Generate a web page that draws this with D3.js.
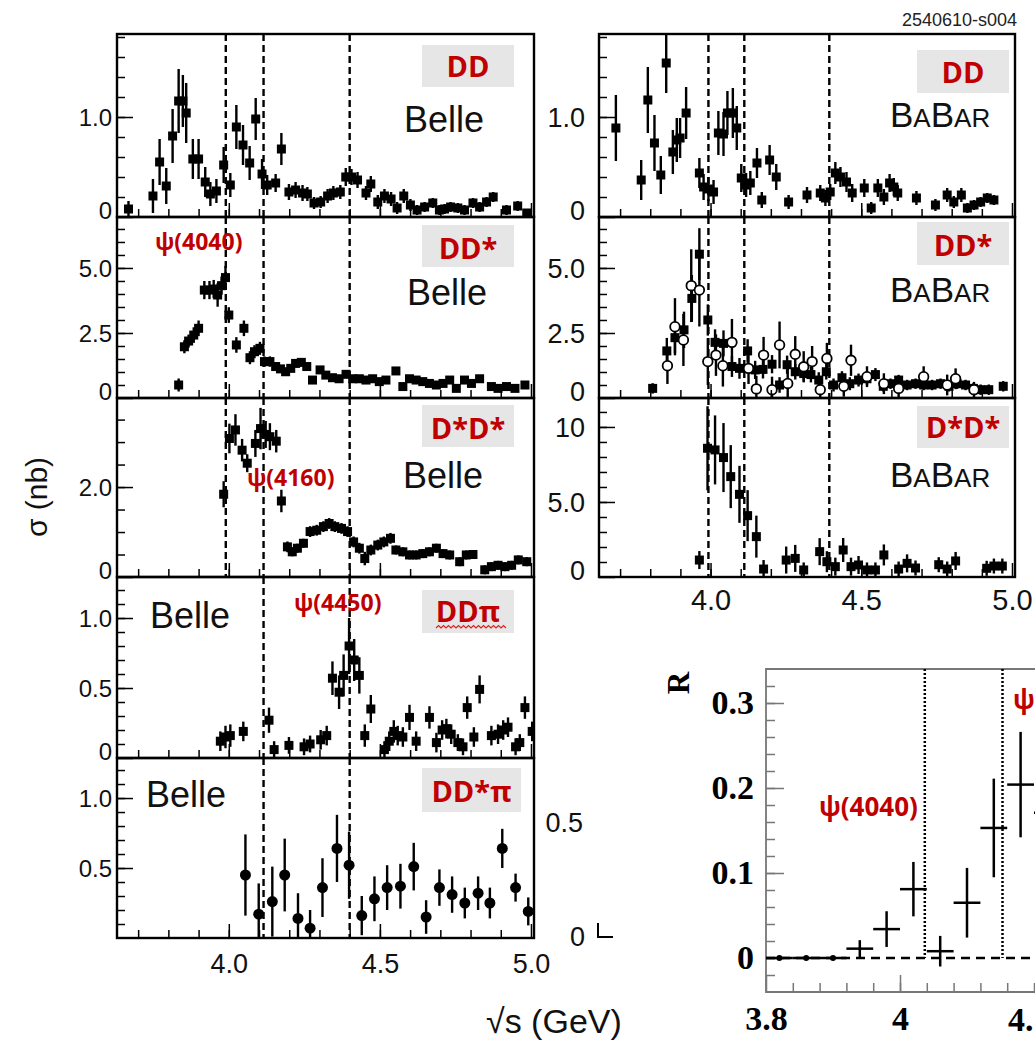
<!DOCTYPE html>
<html>
<head>
<meta charset="utf-8">
<script src="https://cdn.jsdelivr.net/npm/d3@7"></script>
<style>
body{margin:0;background:#fff;}
svg{font-family:"Liberation Sans",Arial,sans-serif;}
</style>
</head>
<body>
<svg id="chart" width="1035" height="1045"></svg>
<script>
var W=1035,H=1045;
var red="#c00000";
var boxGray="#e6e6e6";

// resonance lines (GeV)
var psiLines=[3.99,4.115,4.40];
var psiLinesPi=[4.115,4.40];
var psiLinesBabar=[3.993,4.112,4.394];
var psiLinesR=[4.037,4.153];

// [sqrt(s) GeV, sigma nb, error nb]
var belleDD=[[3.668,0.08,0.08],[3.749,0.21,0.17],[3.771,0.55,0.23],[3.793,0.31,0.18],[3.814,0.81,0.27],
[3.834,1.16,0.32],[3.848,1.16,0.26],[3.859,1.04,0.30],[3.881,0.58,0.20],[3.900,0.58,0.20],[3.922,0.35,0.15],
[3.939,0.23,0.12],[3.959,0.26,0.12],[3.983,0.52,0.18],[4.005,0.32,0.12],[4.025,0.90,0.22],[4.047,0.72,0.20],
[4.069,0.54,0.17],[4.089,0.98,0.21],[4.110,0.43,0.15],[4.127,0.32,0.10],[4.155,0.34,0.09],[4.174,0.68,0.16],
[4.199,0.25,0.08],[4.221,0.27,0.08],[4.244,0.24,0.08],[4.260,0.23,0.07],[4.282,0.14,0.06],[4.304,0.15,0.06],
[4.327,0.21,0.07],[4.346,0.24,0.07],[4.369,0.25,0.07],[4.387,0.40,0.09],[4.406,0.40,0.08],[4.426,0.37,0.08],
[4.454,0.24,0.07],[4.470,0.33,0.08],[4.493,0.15,0.07],[4.515,0.21,0.07],[4.537,0.18,0.07],[4.557,0.09,0.06],
[4.579,0.21,0.07],[4.601,0.12,0.06],[4.623,0.07,0.05],[4.648,0.10,0.05],[4.675,0.14,0.05],[4.697,0.07,0.05],
[4.714,0.08,0.05],[4.734,0.10,0.05],[4.758,0.09,0.05],[4.780,0.07,0.05],[4.808,0.14,0.05],[4.830,0.10,0.05],
[4.853,0.15,0.05],[4.875,0.20,0.05],[4.919,0.07,0.05],[4.956,0.11,0.05],[4.986,0.04,0.04]];

var belleDDs=[[3.834,0.50,0.25],[3.853,1.97,0.25],[3.867,2.19,0.25],[3.884,2.42,0.3],[3.900,2.68,0.3],
[3.919,4.15,0.35],[3.936,4.15,0.35],[3.950,4.19,0.35],[3.963,3.96,0.45],[3.976,4.32,0.35],[3.989,4.63,0.45],
[4.000,3.19,0.3],[4.025,2.04,0.3],[4.050,2.68,0.3],[4.070,1.55,0.25],[4.085,1.78,0.25],[4.103,1.91,0.25],
[4.118,1.40,0.2],[4.136,1.40,0.2],[4.155,1.21,0.15],[4.171,1.12,0.15],[4.188,1.01,0.15],[4.205,1.14,0.15],
[4.221,1.33,0.15],[4.240,1.37,0.15],[4.258,1.21,0.15],[4.277,0.69,0.15],[4.302,1.08,0.15],[4.321,0.88,0.15],
[4.343,0.78,0.12],[4.365,0.74,0.12],[4.388,0.91,0.12],[4.410,0.74,0.12],[4.432,0.74,0.12],[4.454,0.69,0.12],
[4.476,0.74,0.12],[4.498,0.63,0.12],[4.520,0.69,0.12],[4.553,1.04,0.15],[4.576,0.44,0.12],[4.598,0.74,0.12],
[4.620,0.69,0.12],[4.642,0.63,0.12],[4.664,0.56,0.12],[4.687,0.50,0.12],[4.709,0.56,0.12],[4.731,0.69,0.12],
[4.753,0.37,0.12],[4.780,0.69,0.12],[4.803,0.56,0.12],[4.830,0.74,0.12],[4.869,0.44,0.12],[4.891,0.37,0.12],
[4.919,0.44,0.12],[4.947,0.37,0.12],[4.980,0.50,0.12]];

var belleDsDs=[[3.983,1.84,0.29],[4.002,3.08,0.33],[4.022,3.27,0.35],[4.044,2.82,0.25],[4.061,2.53,0.2],
[4.088,2.97,0.3],[4.105,3.30,0.46],[4.122,3.17,0.3],[4.136,3.12,0.3],[4.157,3.02,0.25],[4.174,1.69,0.25],
[4.194,0.67,0.12],[4.210,0.56,0.1],[4.227,0.64,0.1],[4.247,0.75,0.1],[4.269,1.01,0.12],[4.291,1.04,0.12],
[4.313,1.12,0.12],[4.332,1.19,0.12],[4.351,1.12,0.12],[4.373,1.08,0.12],[4.393,1.01,0.12],[4.413,0.78,0.12],
[4.432,0.64,0.12],[4.450,0.41,0.15],[4.470,0.60,0.12],[4.493,0.71,0.12],[4.513,0.78,0.12],[4.535,0.86,0.12],
[4.553,0.60,0.1],[4.576,0.56,0.1],[4.598,0.49,0.1],[4.620,0.49,0.1],[4.642,0.52,0.1],[4.664,0.56,0.1],
[4.687,0.64,0.1],[4.709,0.52,0.1],[4.731,0.49,0.1],[4.764,0.34,0.1],[4.786,0.49,0.1],[4.808,0.50,0.1],
[4.847,0.16,0.1],[4.869,0.23,0.1],[4.891,0.26,0.1],[4.914,0.23,0.1],[4.936,0.26,0.1],[4.958,0.38,0.1],
[4.986,0.34,0.1]];

var belleDDpi=[[3.972,0.12,0.07],[3.989,0.15,0.08],[4.005,0.16,0.08],[4.048,0.19,0.07],[4.133,0.27,0.09],
[4.150,0.06,0.06],[4.199,0.09,0.06],[4.249,0.08,0.06],[4.269,0.10,0.06],[4.304,0.13,0.07],[4.324,0.16,0.07],
[4.343,0.57,0.12],[4.365,0.47,0.12],[4.380,0.59,0.15],[4.398,0.80,0.2],[4.415,0.70,0.15],[4.432,0.59,0.13],
[4.450,0.16,0.08],[4.470,0.35,0.1],[4.515,0.06,0.06],[4.531,0.12,0.07],[4.546,0.19,0.08],[4.559,0.16,0.07],
[4.576,0.15,0.07],[4.598,0.29,0.09],[4.620,0.12,0.07],[4.664,0.29,0.08],[4.687,0.11,0.07],[4.706,0.20,0.07],
[4.720,0.21,0.07],[4.736,0.17,0.07],[4.758,0.11,0.06],[4.775,0.08,0.06],[4.789,0.36,0.08],[4.811,0.15,0.07],
[4.830,0.49,0.1],[4.869,0.16,0.07],[4.891,0.17,0.07],[4.908,0.20,0.07],[4.924,0.22,0.07],[4.949,0.08,0.06],
[4.963,0.11,0.06],[4.980,0.36,0.08],[5.004,0.19,0.07]];

var belleDDspi=[[4.055,0.45,0.29],[4.099,0.17,0.22],[4.144,0.26,0.25],[4.185,0.45,0.26],[4.229,0.14,0.18],
[4.269,0.07,0.13],[4.310,0.36,0.21],[4.358,0.64,0.24],[4.398,0.52,0.24],[4.440,0.16,0.14],[4.482,0.28,0.16],
[4.524,0.36,0.16],[4.568,0.37,0.16],[4.612,0.51,0.17],[4.653,0.15,0.12],[4.697,0.36,0.13],[4.739,0.31,0.13],
[4.781,0.25,0.11],[4.825,0.32,0.12],[4.864,0.25,0.11],[4.905,0.64,0.14],[4.949,0.36,0.1],[4.991,0.19,0.1]];

var babarDD=[[3.686,0.89,0.33],[3.770,0.37,0.20],[3.792,1.17,0.33],[3.814,0.74,0.28],[3.835,0.42,0.19],
[3.853,1.54,0.30],[3.875,0.65,0.22],[3.888,0.77,0.22],[3.899,0.79,0.2],[3.919,1.04,0.26],[3.963,0.44,0.15],
[3.977,0.30,0.13],[3.993,0.28,0.12],[4.010,0.25,0.12],[4.026,0.84,0.22],[4.043,0.83,0.22],[4.056,1.04,0.22],
[4.074,1.04,0.25],[4.087,0.89,0.22],[4.102,0.39,0.14],[4.118,0.32,0.12],[4.132,0.34,0.12],[4.154,0.54,0.15],
[4.170,0.17,0.08],[4.196,0.57,0.15],[4.218,0.40,0.13],[4.259,0.15,0.07],[4.320,0.22,0.08],[4.364,0.24,0.08],
[4.381,0.19,0.08],[4.397,0.25,0.08],[4.414,0.44,0.11],[4.431,0.40,0.10],[4.451,0.35,0.10],[4.470,0.24,0.09],
[4.510,0.29,0.09],[4.533,0.09,0.06],[4.555,0.29,0.09],[4.575,0.20,0.08],[4.594,0.34,0.09],[4.608,0.30,0.09],
[4.621,0.24,0.08],[4.683,0.19,0.07],[4.746,0.12,0.06],[4.785,0.22,0.07],[4.807,0.15,0.06],[4.832,0.22,0.07],
[4.852,0.09,0.05],[4.874,0.12,0.05],[4.896,0.15,0.05],[4.918,0.19,0.05],[4.940,0.17,0.05]];

var babarDDs=[[3.808,0.37,0.2],[3.855,1.81,0.5],[3.882,2.32,0.6],[3.912,2.62,0.7],[3.938,3.83,0.9],
[3.963,5.53,1.0],[3.991,3.00,0.6],[4.015,2.14,0.5],[4.043,2.10,0.5],[4.071,1.21,0.4],[4.096,1.14,0.4],
[4.123,1.81,0.45],[4.148,1.08,0.35],[4.174,1.10,0.35],[4.204,1.30,0.35],[4.229,0.50,0.3],[4.254,1.28,0.35],
[4.281,1.01,0.3],[4.309,0.94,0.3],[4.333,0.90,0.3],[4.359,0.69,0.3],[4.384,1.01,0.3],[4.408,0.50,0.25],
[4.436,0.78,0.25],[4.462,0.55,0.25],[4.491,0.69,0.25],[4.519,0.74,0.25],[4.547,0.90,0.25],[4.573,0.45,0.2],
[4.597,0.55,0.2],[4.624,0.69,0.2],[4.652,0.50,0.2],[4.680,0.55,0.2],[4.707,0.50,0.2],[4.735,0.50,0.2],
[4.763,0.55,0.2],[4.791,0.45,0.2],[4.818,0.55,0.2],[4.846,0.50,0.2],[4.872,0.37,0.2],[4.896,0.32,0.2],
[4.923,0.32,0.2],[4.971,0.45,0.2]];

var babarDDsOpen=[[3.857,1.24,0.7],[3.882,2.74,1.1],[3.910,2.23,1.0],[3.936,4.32,1.4],[3.963,4.15,1.4],
[3.991,1.40,0.9],[4.018,1.65,0.8],[4.041,1.24,0.8],[4.071,2.14,0.9],[4.126,1.14,0.6],[4.152,0.35,0.5],
[4.176,1.65,0.7],[4.204,0.32,0.5],[4.229,2.04,0.9],[4.256,0.56,0.6],[4.281,1.68,0.7],[4.309,1.20,0.6],
[4.337,1.40,0.6],[4.364,0.32,0.5],[4.386,1.52,0.6],[4.442,0.45,0.4],[4.466,1.45,0.6],[4.519,0.82,0.4],
[4.575,0.55,0.4],[4.624,0.37,0.4],[4.707,0.82,0.4],[4.785,0.50,0.4],[4.813,0.74,0.4],[4.874,0.32,0.3]];

var babarDsDs=[[3.963,1.13,0.6],[3.990,8.58,2.8],[4.015,8.47,2.3],[4.043,7.96,2.3],[4.067,6.69,2.1],
[4.096,5.51,1.9],[4.123,4.09,1.7],[4.152,2.69,1.4],[4.176,0.53,0.6],[4.251,1.13,0.9],[4.281,1.24,0.9],
[4.309,0.47,0.5],[4.362,1.69,0.9],[4.386,1.02,0.7],[4.414,0.69,0.6],[4.440,1.80,0.8],[4.466,0.69,0.6],
[4.491,0.80,0.6],[4.519,0.47,0.5],[4.547,0.47,0.5],[4.575,1.47,0.7],[4.624,0.53,0.5],[4.652,0.91,0.6],
[4.680,0.60,0.5],[4.757,0.82,0.5],[4.785,0.53,0.5],[4.813,1.07,0.6],[4.916,0.58,0.5],[4.940,0.73,0.5],
[4.968,0.73,0.5]];

// R ratio panel: [sqrt(s), R, error]
var ratioR=[[3.82,0,0],[3.86,0,0],[3.90,0,0],[3.94,0.011,0.010],[3.98,0.034,0.021],[4.02,0.081,0.032],
[4.06,0.008,0.018],[4.10,0.065,0.041],[4.14,0.153,0.058],[4.18,0.204,0.062],[4.22,0.171,0.05]];

var svg=d3.select("#chart");
var eDomain=[3.63,5.01];
var leftX=[117,534], rightX=[599,1015];

var panels=[
 {id:"bDD",xr:leftX,yr:[34,217],ymax:1.83,labels:[0,1.0],minorStep:0.2,lines:psiLines,lpad:5,fs:24,sets:[{data:belleDD,mark:"sq"}]},
 {id:"bDDs",xr:leftX,yr:[217,398],ymax:6.96,labels:[0,2.5,5.0],minorStep:0.5,lines:psiLines,lpad:5,fs:24,sets:[{data:belleDDs,mark:"sq"}]},
 {id:"bDsDs",xr:leftX,yr:[398,577],ymax:3.98,labels:[0,2.0],minorStep:0.5,lines:psiLines,lpad:5,fs:24,sets:[{data:belleDsDs,mark:"sq"}]},
 {id:"bDDpi",xr:leftX,yr:[577,758],ymax:1.293,labels:[0,0.5,1.0],minorStep:0.1,lines:psiLinesPi,lpad:5,fs:24,sets:[{data:belleDDpi,mark:"sq"}]},
 {id:"bDDspi",xr:leftX,yr:[758,938],ymax:1.286,labels:[0.5,1.0],minorStep:0.1,lines:psiLinesPi,lpad:5,fs:24,xlab:16,sets:[{data:belleDDspi,mark:"dot"}]},
 {id:"aDD",xr:rightX,yr:[34,217],ymax:1.83,labels:[0,1.0],minorStep:0.2,lines:psiLinesBabar,lpad:14,fs:27,sets:[{data:babarDD,mark:"sq"}]},
 {id:"aDDs",xr:rightX,yr:[217,398],ymax:6.96,labels:[0,2.5,5.0],minorStep:0.5,lines:psiLinesBabar,lpad:14,fs:27,sets:[{data:babarDDs,mark:"sq"},{data:babarDDsOpen,mark:"open"}]},
 {id:"aDsDs",xr:rightX,yr:[398,577],ymax:11.93,labels:[0,5.0,10],minorStep:1,lines:psiLinesBabar,lpad:14,fs:27,xlab:12,sets:[{data:babarDsDs,mark:"sq"}]}
];

function yFmt(v){
  if(v===0) return "0";
  if(v>=10) return d3.format("d")(v);
  return d3.format(".1f")(v);
}

function drawPanel(p){
  var x=d3.scaleLinear().domain(eDomain).range(p.xr);
  var y=d3.scaleLinear().domain([0,p.ymax]).range([p.yr[1],p.yr[0]]);
  var g=svg.append("g").classed(p.id,true);
  g.append("clipPath").attr("id","clip-"+p.id)
   .append("rect")
   .attr("x",p.xr[0]).attr("y",p.yr[0])
   .attr("width",p.xr[1]-p.xr[0]).attr("height",p.yr[1]-p.yr[0]);
  var inner=g.append("g").attr("clip-path","url(#clip-"+p.id+")");
  inner.selectAll("line.psi").data(p.lines).enter().append("line")
       .attr("x1",function(d){return x(d);}).attr("x2",function(d){return x(d);})
       .attr("y1",p.yr[0]).attr("y2",p.yr[1])
       .attr("stroke","#000").attr("stroke-width",2.4).attr("stroke-dasharray","7,4");
  p.sets.forEach(function(s){
    var pts=inner.append("g").selectAll("g").data(s.data).enter().append("g");
    pts.append("line")
       .attr("x1",function(d){return x(d[0]);}).attr("x2",function(d){return x(d[0]);})
       .attr("y1",function(d){return y(d[1]-d[2]);}).attr("y2",function(d){return y(d[1]+d[2]);})
       .attr("stroke","#000").attr("stroke-width",2.4);
    if(s.mark=="sq"){
      pts.append("rect")
         .attr("x",function(d){return x(d[0])-4.5;}).attr("y",function(d){return y(d[1])-4.5;})
         .attr("width",9).attr("height",9).attr("fill","#000");
    } else if(s.mark=="dot"){
      pts.append("circle")
         .attr("cx",function(d){return x(d[0]);}).attr("cy",function(d){return y(d[1]);})
         .attr("r",5.5).attr("fill","#000");
    } else {
      pts.append("circle")
         .attr("cx",function(d){return x(d[0]);}).attr("cy",function(d){return y(d[1]);})
         .attr("r",4.8).attr("fill","#fff").attr("stroke","#000").attr("stroke-width",1.8);
    }
  });
  // y axis, ticks pointing inward
  var minorY=d3.range(p.minorStep,p.ymax,p.minorStep);
  g.append("g").classed("yMinor",true)
   .attr("transform","translate("+p.xr[0]+",0)")
   .call(d3.axisLeft(y).tickValues(minorY).tickSize(-8).tickFormat(""));
  var ya=g.append("g").classed("yAxis",true)
   .attr("transform","translate("+p.xr[0]+",0)")
   .call(d3.axisLeft(y).tickValues(p.labels).tickSize(-16).tickPadding(p.lpad).tickFormat(yFmt));
  ya.selectAll("text")
    .attr("font-size",p.fs).attr("font-family","'Liberation Sans',Arial,sans-serif").attr("fill","#111")
    .attr("dy",function(d){return d===0?"0.08em":"0.34em";});
  // x axis ticks
  g.append("g").classed("xMinor",true)
   .attr("transform","translate(0,"+p.yr[1]+")")
   .call(d3.axisBottom(x).tickValues(d3.range(3.7,5.0,0.1)).tickSize(-8).tickFormat(""));
  var xm=g.append("g").classed("xAxis",true)
   .attr("transform","translate(0,"+p.yr[1]+")")
   .call(d3.axisBottom(x).tickValues([4.0,4.5,5.0]).tickSize(-14).tickPadding(p.xlab||10)
         .tickFormat(p.xlab?d3.format(".1f"):""));
  xm.selectAll("text").attr("font-size",p.id=="aDsDs"?29:27).attr("fill","#111")
    .attr("font-family","'Liberation Sans',Arial,sans-serif");
  g.selectAll(".domain").remove();
  g.selectAll(".tick line").attr("stroke","#000").attr("stroke-width",1.5);
  g.append("rect")
   .attr("x",p.xr[0]).attr("y",p.yr[0])
   .attr("width",p.xr[1]-p.xr[0]).attr("height",p.yr[1]-p.yr[0])
   .attr("fill","none").attr("stroke","#000").attr("stroke-width",2.4);
}
panels.forEach(drawPanel);

// process label boxes
var tags=[
 {t:"DD",x:422,y:45,w:92,h:42,base:77},
 {t:"DD*",x:422,y:225,w:92,h:42,base:259},
 {t:"D*D*",x:422,y:405,w:92,h:42,base:439},
 {t:"DDπ",x:422,y:590,w:92,h:43,base:622},
 {t:"DD*π",x:422,y:768,w:99,h:44,base:802},
 {t:"DD",x:917,y:50,w:92,h:43,base:83},
 {t:"DD*",x:917,y:222,w:92,h:43,base:256},
 {t:"D*D*",x:917,y:406,w:92,h:42,base:438}
];
var tg=svg.append("g");
tg.selectAll("rect").data(tags).enter().append("rect")
  .attr("x",function(d){return d.x;}).attr("y",function(d){return d.y;})
  .attr("width",function(d){return d.w;}).attr("height",function(d){return d.h;})
  .attr("fill",boxGray);
tg.selectAll("text").data(tags).enter().append("text")
  .attr("x",function(d){return d.x+d.w/2;}).attr("y",function(d){return d.base;})
  .attr("text-anchor","middle").attr("font-size",29).attr("font-weight","bold")
  .attr("font-family","'Open Sans','Liberation Sans',sans-serif")
  .attr("fill",red).text(function(d){return d.t;});
// spell-check squiggle under DDπ
var sq="M436,628";
for(var i=0;i<14;i++){sq+=" l2.5,-2.5 l2.5,2.5";}
svg.append("path").attr("d",sq).attr("fill","none").attr("stroke","#e02020").attr("stroke-width",1.2);

// experiment names
var belleTxt=[{x:404,y:132},{x:407,y:305},{x:403,y:488},{x:150,y:628},{x:146,y:807}];
svg.append("g").selectAll("text").data(belleTxt).enter().append("text")
   .attr("x",function(d){return d.x;}).attr("y",function(d){return d.y;})
   .attr("font-size",36).attr("fill","#111").text("Belle");
var babarTxt=[{x:890,y:127},{x:890,y:302},{x:890,y:487}];
var bb=svg.append("g").selectAll("text").data(babarTxt).enter().append("text")
   .attr("x",function(d){return d.x;}).attr("y",function(d){return d.y;})
   .attr("fill","#111");
bb.append("tspan").attr("font-size",35).text("B");
bb.append("tspan").attr("font-size",26).text("A");
bb.append("tspan").attr("font-size",35).text("B");
bb.append("tspan").attr("font-size",26).text("AR");

// resonance labels
var psiTxt=[{t:"ψ(4040)",x:155,y:250,fs:23},{t:"ψ(4160)",x:247,y:486,fs:23},{t:"ψ(4450)",x:294,y:611,fs:23},
            {t:"ψ(4040)",x:819,y:816,fs:26},{t:"ψ",x:1013,y:709,fs:26}];
svg.append("g").selectAll("text").data(psiTxt).enter().append("text")
   .attr("x",function(d){return d.x;}).attr("y",function(d){return d.y;})
   .attr("font-size",function(d){return d.fs;}).attr("font-weight","bold")
   .attr("font-family","'Open Sans','Liberation Sans',sans-serif")
   .attr("fill",red).text(function(d){return d.t;});

// axis titles
svg.append("text").attr("transform","translate(47,497) rotate(-90)")
   .attr("text-anchor","middle").attr("font-size",30).attr("fill","#111").text("σ (nb)");
svg.append("text").attr("x",486).attr("y",1033)
   .attr("font-size",34).attr("fill","#111").text("√s (GeV)");
svg.append("text").attr("x",1017).attr("y",26).attr("text-anchor","end")
   .attr("font-size",18).attr("fill","#222").text("2540610-s004");

// stray axis remnant between the columns
svg.append("text").attr("x",583).attr("y",832).attr("text-anchor","end")
   .attr("font-size",27).attr("fill","#111").text("0.5");
svg.append("text").attr("x",585).attr("y",946).attr("text-anchor","end")
   .attr("font-size",27).attr("fill","#111").text("0");
svg.append("path").attr("d","M598,923 V937 H613").attr("fill","none").attr("stroke","#000").attr("stroke-width",2);

// R ratio inset
var xR=d3.scaleLinear().domain([3.8,4.2]).range([766,1034]);
var yR=d3.scaleLinear().domain([-0.04,0.34]).range([992,669]);
var rg=svg.append("g");
var serif="'Liberation Serif','Times New Roman',serif";
rg.append("g").attr("transform","translate(766,0)")
  .call(d3.axisLeft(yR).tickValues(d3.range(-0.02,0.34,0.02)).tickSize(-9).tickFormat(""));
var rya=rg.append("g").attr("transform","translate(766,0)")
  .call(d3.axisLeft(yR).tickValues([0,0.1,0.2,0.3]).tickSize(-18).tickPadding(12)
        .tickFormat(function(d){return d===0?"0":d3.format(".1f")(d);}));
rya.selectAll("text").attr("font-size",34).attr("font-weight","bold").attr("font-family",serif).attr("fill","#000");
rg.append("g").attr("transform","translate(0,992)")
  .call(d3.axisBottom(xR).tickValues(d3.range(3.84,4.2,0.04)).tickSize(-9).tickFormat(""));
var rxa=rg.append("g").attr("transform","translate(0,992)")
  .call(d3.axisBottom(xR).tickValues([3.8,4.0]).tickSize(-17).tickPadding(14)
        .tickFormat(function(d){return d==4?"4":d3.format(".1f")(d);}));
rxa.selectAll("text").attr("font-size",34).attr("font-weight","bold").attr("font-family",serif).attr("fill","#000");
// the 4.2 label is cut by the image edge, only "4." shows
rg.append("text").attr("x",1008).attr("y",1031)
  .attr("font-size",34).attr("font-weight","bold").attr("font-family",serif).text("4.");
rg.selectAll(".domain").remove();
rg.selectAll(".tick line").attr("stroke","#777").attr("stroke-width",1.5);
rg.append("path").attr("d","M1036,669 H766 V992 H1036").attr("fill","none").attr("stroke","#777").attr("stroke-width",1.8);
rg.append("line").attr("x1",766).attr("x2",1035).attr("y1",yR(0)).attr("y2",yR(0))
  .attr("stroke","#000").attr("stroke-width",2.5).attr("stroke-dasharray","9,6");
rg.selectAll("line.dot").data(psiLinesR).enter().append("line")
  .attr("x1",function(d){return xR(d);}).attr("x2",function(d){return xR(d);})
  .attr("y1",669).attr("y2",yR(0))
  .attr("stroke","#000").attr("stroke-width",2.5).attr("stroke-dasharray","2,2");
var rp=rg.append("g").selectAll("g").data(ratioR).enter().append("g");
rp.append("line")
  .attr("x1",function(d){return xR(d[0]-0.02);}).attr("x2",function(d){return xR(d[0]+0.02);})
  .attr("y1",function(d){return yR(d[1]);}).attr("y2",function(d){return yR(d[1]);})
  .attr("stroke","#000").attr("stroke-width",2.5);
rp.append("line")
  .attr("x1",function(d){return xR(d[0]);}).attr("x2",function(d){return xR(d[0]);})
  .attr("y1",function(d){return yR(d[1]-d[2]);}).attr("y2",function(d){return yR(d[1]+d[2]);})
  .attr("stroke","#000").attr("stroke-width",2.5);
rp.filter(function(d){return d[1]===0;}).append("circle")
  .attr("cx",function(d){return xR(d[0]);}).attr("cy",function(d){return yR(d[1]);})
  .attr("r",3).attr("fill","#000");
rg.append("text").attr("transform","translate(689,683) rotate(-90)")
  .attr("text-anchor","middle").attr("font-size",31).attr("font-weight","bold")
  .attr("font-family",serif).text("R");
</script>
</body>
</html>
